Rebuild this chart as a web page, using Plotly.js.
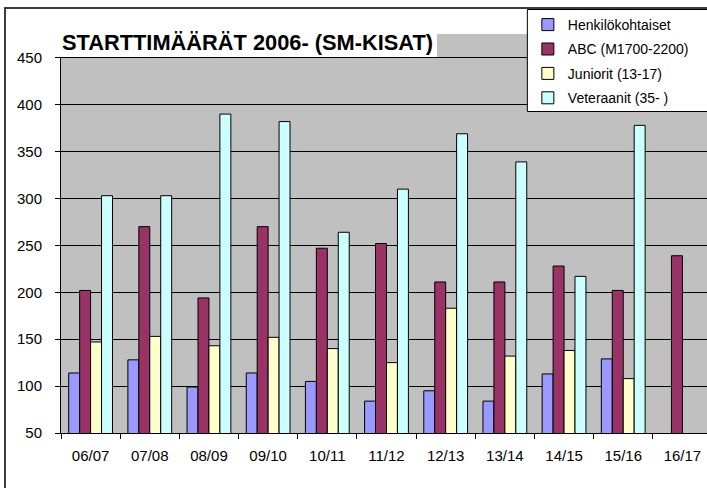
<!DOCTYPE html>
<html>
<head>
<meta charset="utf-8">
<script src="https://cdn.plot.ly/plotly-3.0.1.min.js"></script>
<style>
  html, body { margin: 0; padding: 0; width: 707px; height: 488px; overflow: hidden; background: #fff; }
  #chart { position: absolute; left: 0; top: 0; width: 720px; height: 530px; }
  #frame { position: absolute; left: 4px; top: 7px; width: 760px; height: 560px;
           border-left: 2px solid #3c3c3c; border-top: 2px solid #3c3c3c; pointer-events: none; z-index: 5; }
</style>
</head>
<body>
<div id="chart"></div>
<div id="frame"></div>
<script>
const categories = ['06/07','07/08','08/09','09/10','10/11','11/12','12/13','13/14','14/15','15/16','16/17'];
const henkilokohtaiset = [114, 128, 99, 114, 105, 84, 95, 84, 113, 129, null];
const abc = [202, 270, 194, 270, 247, 252, 211, 211, 228, 202, 239];
const juniorit = [147, 153, 143, 152, 140, 125, 183, 132, 138, 108, null];
const veteraanit = [303, 303, 390, 382, 264, 310, 369, 339, 217, 378, null];
const seriesNames = ['Henkilökohtaiset', 'ABC (M1700-2200)', 'Juniorit (13-17)', 'Veteraanit (35- )'];
const yTicks = [50, 100, 150, 200, 250, 300, 350, 400, 450];
const titleText = 'STARTTIMÄÄRÄT 2006- (SM-KISAT)';

const colors = ['#9999FF', '#993366', '#FFFFCC', '#CCFFFF'];
const values = [henkilokohtaiset, abc, juniorit, veteraanit];
const FONT = 'Liberation Sans, Arial, sans-serif';

const traces = values.map((v, i) => ({
  type: 'bar',
  name: seriesNames[i],
  x: categories,
  y: v,
  legendgroup: 'g' + i,
  marker: { color: colors[i], line: { color: '#000', width: 1 } },
  hoverinfo: 'skip'
}));

// plot area in page px: left 61, top 34, width 651.2, height 399
const L = 61, T = 34, W = 651.2, H = 399;
const px = x => (x - L) / W;       // page x -> paper x
const py = y => (T + H - y) / H;   // page y -> paper y

const layout = {
  width: 720, height: 530,
  margin: { l: L, t: T, r: 720 - L - W, b: 530 - T - H, pad: 0 },
  paper_bgcolor: 'rgba(0,0,0,0)',
  plot_bgcolor: '#C0C0C0',
  font: { family: FONT, size: 14, color: '#000' },
  barmode: 'group',
  bargap: 0.26,
  bargroupgap: 0,
  showlegend: true,
  legend: {
    x: px(528), xanchor: 'left',
    y: py(9), yanchor: 'top',
    bgcolor: 'rgba(0,0,0,0)', borderwidth: 0,
    font: { family: FONT, size: 14, color: '#000' },
    tracegroupgap: 3.2,
    traceorder: 'grouped'
  },
  shapes: [{
    type: 'rect', xref: 'paper', yref: 'paper', layer: 'above',
    x0: px(527.5), x1: px(716), y0: py(111.5), y1: py(9.5),
    fillcolor: '#fff', line: { color: '#000', width: 1 }
  }],
  xaxis: {
    type: 'category',
    range: [-0.5, 10.5],
    showgrid: false,
    showline: true, linecolor: '#000', linewidth: 1,
    ticks: 'outside', tickson: 'boundaries', ticklen: 5, tickcolor: '#000', tickwidth: 1,
    tickfont: { family: FONT, size: 15, color: '#000' },
    ticklabelstandoff: 9,
    zeroline: false,
    fixedrange: true
  },
  yaxis: {
    range: [50, 50 + H / 0.938],
    tickvals: yTicks,
    ticktext: yTicks.map(String),
    showgrid: true, gridcolor: '#000', gridwidth: 1,
    showline: true, linecolor: '#000', linewidth: 1,
    ticks: 'outside', ticklen: 5, tickcolor: '#000', tickwidth: 1,
    tickfont: { family: FONT, size: 15, color: '#000' },
    ticklabelstandoff: 10,
    zeroline: false,
    fixedrange: true
  },
  annotations: [{
    text: '<b>' + titleText + '</b>',
    xref: 'paper', yref: 'paper',
    x: px(247.5), y: py(42.3),
    xanchor: 'center', yanchor: 'middle',
    showarrow: false,
    bgcolor: '#fff',
    borderpad: 0, borderwidth: 0,
    width: 379, height: 30,
    font: { family: FONT, size: 21.8, color: '#000' }
  }]
};

Plotly.newPlot('chart', traces, layout, { staticPlot: true, displayModeBar: false });
</script>
</body>
</html>
